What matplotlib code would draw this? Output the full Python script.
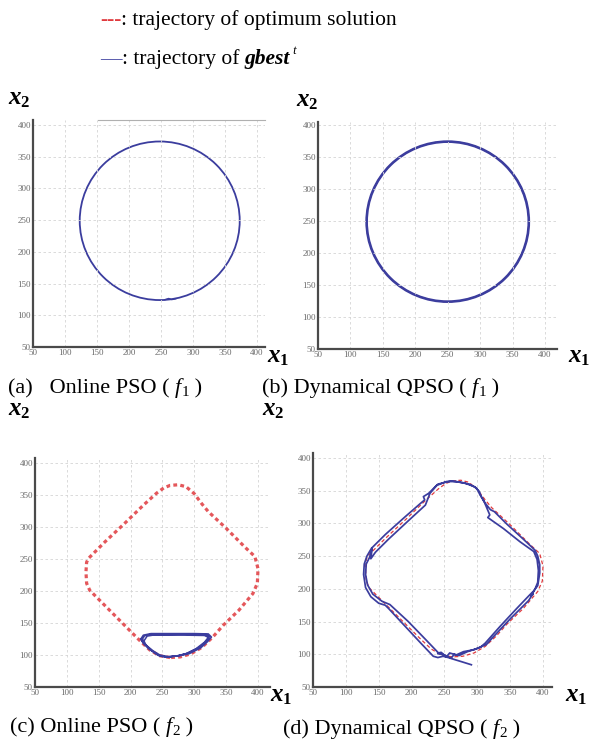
import matplotlib
matplotlib.use("Agg")
import matplotlib.pyplot as plt
from matplotlib.patches import Circle

plt.rcParams["font.family"] = ["Liberation Serif", "DejaVu Serif"]

W, H = 590, 744

# ---- data ----
ticks = [50, 100, 150, 200, 250, 300, 350, 400]

# f1: the optimum moves on a circle
circ_a_center = (248, 249)
circ_a_radius = 125
circ_b_center = (250, 249)
circ_b_radius = 125
glitch_a_x = [256, 262, 267, 273]
glitch_a_y = [124.5, 126.5, 124.8, 126]

# f2: optimum trajectory (rounded diamond)
opt2_x = [262, 245, 230, 214, 190, 160, 136, 131, 130, 131, 134, 160, 190, 220, 241,
          252, 262, 275, 287, 300, 312, 322, 350, 380, 395, 400, 399, 392, 370, 345,
          329, 312, 295, 278, 262]
opt2_y = [96, 99, 108, 123, 147, 177, 201, 212, 230, 245, 251, 277, 305, 334, 353,
          361, 365, 366, 363, 352, 336, 324, 298, 268, 254, 235, 212, 196, 170, 146,
          128, 112, 102, 97, 96]

# f2, Online PSO gbest: stuck in a small loop at the bottom
c_gbest_x = [218, 222, 230, 280, 318, 324, 320, 308, 290, 275, 260, 248, 238, 228, 220, 218,
             221, 226, 235, 285, 316, 322, 316, 303, 287, 270, 256, 244, 233, 224, 221,
             216, 220, 232, 300, 322, 327, 321, 310, 292, 276, 258, 246, 236, 226, 218, 216]
c_gbest_y = [124, 130, 132, 132.5, 132, 129, 122, 112, 103, 99, 97, 98, 103, 110, 118, 124,
             122, 129.5, 131, 131, 130.5, 127.5, 120, 110, 102, 98, 96.5, 99, 107, 116, 122,
             125, 131, 133.5, 133.5, 133, 128, 121, 111, 102, 98.5, 97.5, 100, 106, 114, 121, 125]

# f2, Dynamical QPSO gbest: follows the optimum with some spikes
d_gbest_x = [291, 275, 262, 256, 248, 240, 233, 215, 190, 165, 160, 150, 138, 130, 127,
             128, 132, 139, 160, 190, 214, 220, 218, 226, 238, 253, 268, 288, 299, 304,
             308, 312, 320, 326, 345, 370, 388, 392, 395, 395, 392, 386, 380, 360, 335,
             312, 305, 295, 279, 268, 258, 253,
             245, 241, 220, 195, 167, 155, 141, 133, 130, 131, 136, 140, 138, 145, 165,
             195, 221, 228, 240, 260, 280, 296, 303, 306, 311, 319, 316, 340, 365, 386,
             391, 393, 392, 388, 382, 385, 378, 350, 322, 314, 300, 285, 272, 265, 260,
             250, 240]
d_gbest_y = [84, 89, 93, 95, 97, 95, 97, 116, 143, 170, 175, 178, 188, 202, 222,
             238, 250, 262, 283, 310, 331, 336, 341, 346, 358, 364, 364, 360, 354, 344,
             338, 331, 321, 318, 299, 276, 259, 250, 237, 224, 205, 197, 191, 170, 143,
             117, 111, 107, 104, 99, 102, 96,
             103, 102, 124, 150, 176, 181, 192, 206, 222, 238, 248, 262, 246, 256, 276,
             304, 328, 346, 360, 365, 362, 356, 349, 341, 332, 313, 309, 292, 272, 257,
             245, 228, 210, 200, 189, 193, 182, 154, 124, 115, 109, 104, 98, 100, 94,
             99, 101]

captions = ["(a)   Online PSO ( ", "(b) Dynamical QPSO ( ", "(c) Online PSO ( ", "(d) Dynamical QPSO ( "]
cap_sub = ["1", "1", "2", "2"]

RED = "#e03a3e"
BLUE = "#3b3d9e"

fig = plt.figure(figsize=(W / 100, H / 100), dpi=100)


def add_panel(left, right, bottom, top, x400, y400):
    # pixel box -> axes, limits set so that 50 sits on the spines
    ax = fig.add_axes([left / W, 1 - bottom / H, (right - left) / W, (bottom - top) / H])
    sx = (x400 - left) / 350.0
    sy = (bottom - y400) / 350.0
    ax.set_xlim(50, 50 + (right - left) / sx)
    ax.set_ylim(50, 50 + (bottom - top) / sy)
    ax.set_xticks(ticks)
    ax.set_yticks(ticks)
    ax.tick_params(length=0, labelsize=6.5, labelcolor="#6a6a6a", pad=1.5)
    ax.grid(True, color="#d4d4d4", linestyle=(0, (3, 3)), linewidth=0.6)
    for s in ["top", "right"]:
        ax.spines[s].set_visible(False)
    for s in ["left", "bottom"]:
        ax.spines[s].set_color("#4a4a4a")
        ax.spines[s].set_linewidth(1.6)
    return ax


ax_a = add_panel(33, 265, 347, 120, 257, 125)
ax_b = add_panel(318, 557, 349, 122, 545, 125)
ax_c = add_panel(35, 270, 687, 458, 258, 463)
ax_d = add_panel(313, 552, 687, 453, 543, 458)

# (a)
ax_a.add_patch(Circle(circ_a_center, circ_a_radius, fill=False, ec=BLUE, lw=1.3))
ax_a.plot(glitch_a_x, glitch_a_y, color=BLUE, lw=1.0)
ax_a.axhline(ax_a.get_ylim()[1], xmin=0.28, xmax=1.0, color="#b0b0b0", lw=0.8, clip_on=False)

# (b)
ax_b.add_patch(Circle(circ_b_center, circ_b_radius, fill=False, ec=RED, lw=1.0, ls="--"))
ax_b.add_patch(Circle(circ_b_center, circ_b_radius, fill=False, ec=BLUE, lw=1.9))

# (c)
ax_c.plot(opt2_x, opt2_y, color=RED, lw=2.3, linestyle=(0, (1.2, 1.0)), alpha=0.85)
ax_c.plot(c_gbest_x, c_gbest_y, color=BLUE, lw=1.1)

# (d)
ax_d.plot(opt2_x, opt2_y, color=RED, lw=0.9, linestyle=(0, (3, 2)))
ax_d.plot(d_gbest_x, d_gbest_y, color=BLUE, lw=1.25)

renderer = fig.canvas.get_renderer()


def chain(x, y, pieces):
    # pieces: (text, kwargs, baseline shift in px), x/y in pixels from top-left
    cx = x
    for s, kw, dy in pieces:
        t = fig.text(cx / W, 1 - (y + dy) / H, s, ha="left", va="baseline", **kw)
        cx += t.get_window_extent(renderer).width
    return cx


big = dict(fontsize=16)
xlab = dict(fontsize=18, fontweight="bold", fontstyle="italic")
xsub = dict(fontsize=12, fontweight="bold")

# legend lines at the top
chain(100, 25, [("---", dict(fontsize=15.5, color=RED), 0),
                (": trajectory of optimum solution", dict(fontsize=15.5), 0)])
chain(100, 64, [("\u2014", dict(fontsize=15.5, color=BLUE), 0),
                (": trajectory of ", dict(fontsize=15.5), 0),
                ("gbest", dict(fontsize=15.5, fontweight="bold", fontstyle="italic"), 0),
                (" t", dict(fontsize=9, fontstyle="italic"), -10)])

# axis names
for x, y in [(8, 104), (296, 106), (8, 415), (262, 415)]:
    chain(x, y, [("x", xlab, 0), ("2", xsub, 3)])
for x, y in [(267, 362), (568, 362), (270, 701), (565, 701)]:
    chain(x, y, [("x", xlab, 0), ("1", xsub, 3)])

# captions
for (x, y), cap, sub in zip([(8, 393), (262, 393), (10, 732), (283, 734)], captions, cap_sub):
    chain(x, y, [(cap, big, 0), ("f", dict(fontsize=16, fontstyle="italic"), 0),
                 (sub, dict(fontsize=11), 3), (" )", big, 0)])

fig.savefig("out.png", dpi=100)
